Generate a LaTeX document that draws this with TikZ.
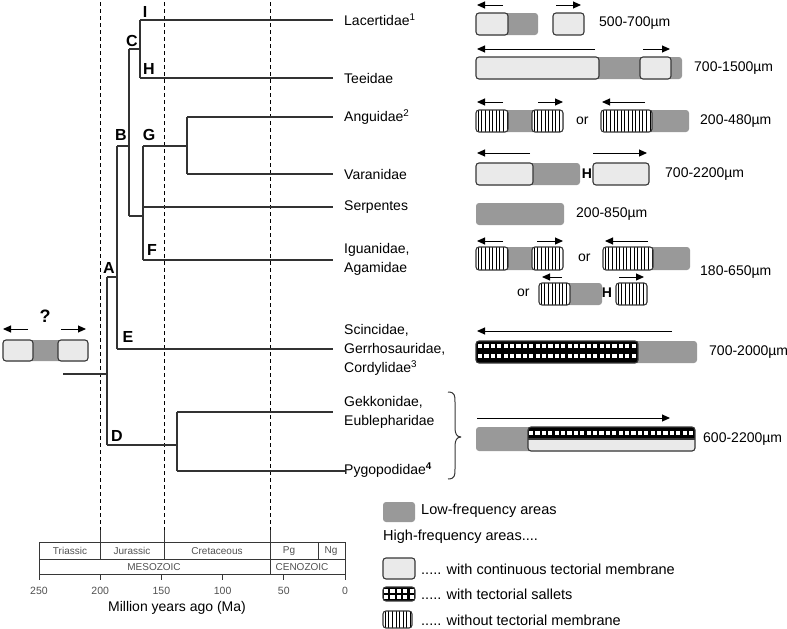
\documentclass[tikz,border=0pt]{standalone}
\usepackage{fontspec}
\setmainfont{Liberation Sans}
\usetikzlibrary{arrows.meta}
\definecolor{lowc}{RGB}{153,153,153}
\definecolor{speckc}{RGB}{234,234,234}
\definecolor{rimc}{RGB}{55,55,55}
\definecolor{treec}{RGB}{50,50,50}
\definecolor{scalec}{RGB}{80,80,80}
\newcommand\lowbar[4]{\fill[lowc,rounded corners=3pt] (#1,#3) rectangle (#2,#4);}
\newcommand\spkbox[4]{\draw[rimc,line width=1.1pt,fill=speckc,rounded corners=3pt] (#1,#3) rectangle (#2,#4);}
\newcommand\strbox[4]{\begin{scope}\clip[rounded corners=3pt] (#1,#3) rectangle (#2,#4);
  \fill[white] (#1,#3) rectangle (#2,#4);
  \foreach \k in {0,...,16} \draw[black,line width=0.9pt] ({#1+2.2+3.6*\k},#3) -- ({#1+2.2+3.6*\k},#4);
  \end{scope}\draw[rimc,line width=1.1pt,rounded corners=3pt] (#1,#3) rectangle (#2,#4);}
\newcommand\chkrow[2]{\foreach \k in {0,...,30} \fill[white] ({#1+2+6.4*\k},#2) rectangle ++(4.2,4.2);}
\tikzset{
  tree/.style={treec,line width=1.2pt},
  era/.style={black,line width=1pt,dash pattern=on 4pt off 3pt},
  arr/.style={-{Triangle[length=8pt,width=7pt]},line width=1pt},
  sp/.style={anchor=west,inner sep=0pt,align=left,font=\fontsize{14}{19}\selectfont},
  lbl/.style={anchor=west,inner sep=0pt,font=\fontsize{14}{17}\selectfont},
  leg/.style={anchor=west,inner sep=0pt,font=\fontsize{14.5}{17}\selectfont},
  letter/.style={inner sep=0pt,font=\fontsize{16}{19}\selectfont\bfseries},
  per/.style={inner sep=0pt,text=scalec,font=\fontsize{10}{11}\selectfont},
  tick/.style={inner sep=0pt,text=scalec,font=\fontsize{10.5}{12}\selectfont},
}
\begin{document}
\begin{tikzpicture}[x=1pt,y=-1pt]
\useasboundingbox (0,0) rectangle (787,629);
% era lines
\draw[era] (100,2) -- (100,530);
\draw[era] (164,2) -- (164,530);
\draw[era] (270,2) -- (270,530);
% tree coordinates
\coordinate (r0) at (63,374);
\coordinate (a1) at (107,277); \coordinate (a2) at (107,445);
\coordinate (a3) at (117,277);
\coordinate (b0) at (117,146); \coordinate (b1) at (129,146);
\coordinate (c0) at (129,49); \coordinate (c1) at (140,49);
\coordinate (i0) at (140,20); \coordinate (i1) at (333,20);
\coordinate (h0) at (140,78); \coordinate (h1) at (333,78);
\coordinate (b2) at (129,216); \coordinate (b3) at (143,216);
\coordinate (g0) at (143,146); \coordinate (g1) at (187,146);
\coordinate (an0) at (187,117); \coordinate (an1) at (333,117);
\coordinate (va0) at (187,174); \coordinate (va1) at (333,174);
\coordinate (se0) at (143,207); \coordinate (se1) at (333,207);
\coordinate (f0) at (143,260); \coordinate (f1) at (333,260);
\coordinate (e0) at (117,349); \coordinate (e1) at (333,349);
\coordinate (d1) at (177,445);
\coordinate (ge0) at (177,412); \coordinate (ge1) at (333,412);
\coordinate (py0) at (177,471); \coordinate (py1) at (345,471);
% tree
\draw[treec,line width=2pt] (r0) -- (107,374);
\draw[tree] (a1) -- (a2);
\draw[tree] (a1) -- (a3);
\draw[tree] (b0) -- (e0);
\draw[tree] (b0) -- (b1);
\draw[tree] (c0) -- (b2);
\draw[tree] (c0) -- (c1);
\draw[tree] (i0) -- (h0);
\draw[tree] (i0) -- (i1);
\draw[tree] (h0) -- (h1);
\draw[tree] (b2) -- (b3);
\draw[tree] (g0) -- (f0);
\draw[tree] (g0) -- (g1);
\draw[tree] (an0) -- (va0);
\draw[tree] (an0) -- (an1);
\draw[tree] (va0) -- (va1);
\draw[tree] (se0) -- (se1);
\draw[tree] (f0) -- (f1);
\draw[tree] (e0) -- (e1);
\draw[tree] (a2) -- (d1);
\draw[tree] (ge0) -- (py0);
\draw[tree] (ge0) -- (ge1);
\draw[tree] (py0) -- (py1);
% node letters
\node[letter] (lI) at (145,12) {I};
\node[letter] (lC) at (132,41) {C};
\node[letter] (lH) at (149,69) {H};
\node[letter] (lB) at (121,135) {B};
\node[letter] (lG) at (149,135) {G};
\node[letter] (lF) at (152,250) {F};
\node[letter] (lA) at (109,268) {A};
\node[letter] (lE) at (128,337) {E};
\node[letter] (lD) at (117,436) {D};
% species
\node[sp] (lac) at (344,20) {Lacertidae\textsuperscript{1}};
\node[sp] (tee) at (344,78) {Teeidae};
\node[sp] (ang) at (344,117) {Anguidae\textsuperscript{2}};
\node[sp] (var) at (344,174) {Varanidae};
\node[sp] (ser) at (344,207) {Serpentes};
\node[sp] (igu) at (344,259) {Iguanidae,\\Agamidae};
\node[sp] (sci) at (344,350) {Scincidae,\\Gerrhosauridae,\\Cordylidae\textsuperscript{3}};
\node[sp] (gek) at (344,412) {Gekkonidae,\\Eublepharidae};
\node[sp] (pyg) at (344,470) {Pygopodidae\textsuperscript{\textbf{4}}};
% root ancestral
\node[letter,font=\fontsize{18}{20}\selectfont\bfseries] (q) at (45,316) {?};
\draw[arr] (28,329) -- (3,329);
\draw[arr] (61,329) -- (86,329);
\lowbar{3}{88}{340}{361}
\spkbox{3}{33}{340}{361}
\spkbox{58}{88}{340}{361}
% Row 1 Lacertidae
\draw[arr] (503,5) -- (477,5);
\draw[arr] (556,5) -- (581,5);
\lowbar{476}{538}{13}{35}
\spkbox{476}{508}{13}{35}
\spkbox{553}{584}{13}{35}
\node[lbl] (m1) at (599,23) {500-700µm};
% Row 2 Teeidae
\draw[arr] (595,49) -- (477,49);
\draw[arr] (643,49) -- (670,49);
\lowbar{476}{682}{57}{79}
\spkbox{476}{599}{57}{79}
\spkbox{640}{671}{57}{79}
\node[lbl] (m2) at (694,68) {700-1500µm};
% Row 3 Anguidae
\draw[arr] (503,102) -- (477,102);
\draw[arr] (538,102) -- (563,102);
\lowbar{476}{563}{110}{132}
\strbox{476}{508}{110}{132}
\strbox{532}{563}{110}{132}
\node[lbl] (or1) at (576,121) {or};
\draw[arr] (645,102) -- (602,102);
\lowbar{601}{689}{110}{132}
\strbox{601}{652}{110}{132}
\node[lbl] (m3) at (700,121) {200-480µm};
% Row 4 Varanidae
\draw[arr] (530,153) -- (477,153);
\draw[arr] (593,153) -- (647,153);
\lowbar{476}{580}{163}{185}
\spkbox{476}{533}{163}{185}
\node[letter,font=\fontsize{14}{15}\selectfont\bfseries] (hv) at (587,174) {H};
\spkbox{593}{649}{163}{185}
\node[lbl] (m4) at (665,174) {700-2200µm};
% Row 5 Serpentes
\lowbar{476}{564}{203}{225}
\node[lbl] (m5) at (576,214) {200-850µm};
% Row 6 Iguanidae
\draw[arr] (503,241) -- (477,241);
\draw[arr] (537,241) -- (563,241);
\lowbar{476}{563}{247}{270}
\strbox{476}{508}{247}{270}
\strbox{532}{563}{247}{270}
\node[lbl] (or2) at (578,258) {or};
\draw[arr] (648,241) -- (605,241);
\lowbar{603}{690}{247}{270}
\strbox{603}{653}{247}{270}
\node[lbl] (m6) at (700,272) {180-650µm};
\node[lbl] (or3) at (517,293) {or};
\draw[arr] (562,277) -- (542,277);
\draw[arr] (619,277) -- (644,277);
\lowbar{539}{602}{283}{305}
\strbox{539}{570}{283}{305}
\node[letter,font=\fontsize{14}{15}\selectfont\bfseries] (hi) at (607,293) {H};
\strbox{616}{647}{283}{305}
% Row 7 Scincidae
\draw[arr] (672,331) -- (477,331);
\lowbar{476}{697}{341}{363}
\begin{scope}
\clip[rounded corners=3pt] (476,341) rectangle (638,363);
\fill[black] (476,341) rectangle (638,363);
\chkrow{476}{343.5}
\chkrow{476}{353.5}
\end{scope}
\draw[rimc,line width=1.1pt,rounded corners=3pt] (476,341) rectangle (638,363);
\node[lbl] (m7) at (709,352) {700-2000µm};
% Brace
\draw[rimc,line width=1pt] (448,392) .. controls (455,392) and (455,396) .. (455,402) -- (455,428) .. controls (455,434) and (457,437) .. (461,437);
\draw[rimc,line width=1pt] (448,479) .. controls (455,479) and (455,475) .. (455,469) -- (455,446) .. controls (455,440) and (457,437) .. (461,437);
% Row 8 Gekkonidae
\draw[arr] (477,418) -- (670,418);
\lowbar{476}{695}{427}{451}
\begin{scope}
\clip[rounded corners=3pt] (528,427) rectangle (695,451);
\fill[black] (528,427) rectangle (695,439);
\chkrow{527}{430.5}
\fill[speckc] (528,439) rectangle (695,451);
\end{scope}
\draw[rimc,line width=1.1pt] (528,439) -- (695,439);
\draw[rimc,line width=1.1pt,rounded corners=3pt] (528,427) rectangle (695,451);
\node[lbl] (m8) at (703,439) {600-2200µm};
% Legend
\lowbar{383}{415}{502}{522}
\node[leg] (l1) at (421,511) {Low-frequency areas};
\node[leg] (l2) at (383,537) {High-frequency areas....};
\spkbox{383}{415}{558}{579}
\node[leg] (l3) at (421,569) {..... with continuous tectorial membrane};
\begin{scope}
\clip[rounded corners=3pt] (383,587) rectangle (415,601);
\fill[black] (383,587) rectangle (415,601);
\chkrow{382}{588.5}
\chkrow{382}{595}
\end{scope}
\draw[rimc,line width=1.1pt,rounded corners=3pt] (383,587) rectangle (415,601);
\node[leg] (l4) at (421,594) {..... with tectorial sallets};
\strbox{383}{412}{611}{628}
\node[leg] (l5) at (421,620) {..... without tectorial membrane};
% Time scale
\draw[rimc,line width=1pt] (39,542) rectangle (345,574);
\draw[rimc,line width=1pt] (39,559) -- (345,559);
\draw[rimc,line width=1pt] (100,530) -- (100,559);
\draw[rimc,line width=1pt] (164,530) -- (164,559);
\draw[rimc,line width=1pt] (270,530) -- (270,574);
\draw[rimc,line width=1pt] (318,542) -- (318,559);
\foreach \t/\xx in {250/39,200/100.2,150/161.4,100/222.6,50/283.8,0/345}{
  \draw[rimc,line width=1pt] (\xx,574) -- (\xx,580);
  \node[tick] (t\t) at (\xx,591) {\t};
}
\node[per] (tri) at (70,551) {Triassic};
\node[per] (jur) at (132,551) {Jurassic};
\node[per] (cre) at (217,551) {Cretaceous};
\node[per] (pg) at (289,551) {Pg};
\node[per] (ng) at (331,551) {Ng};
\node[per] (mes) at (154,567) {MESOZOIC};
\node[per] (cen) at (302,567) {CENOZOIC};
\node[inner sep=0pt,font=\fontsize{14}{17}\selectfont] (mya) at (177,608) {Million years ago (Ma)};
\end{tikzpicture}
\end{document}
